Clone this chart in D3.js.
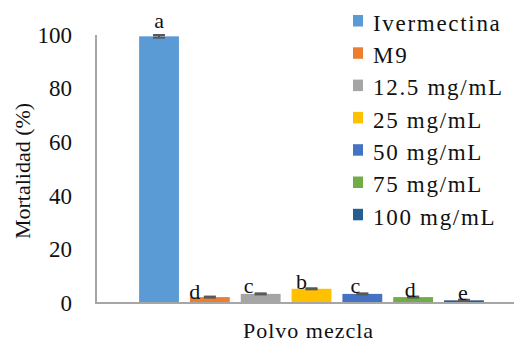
<!DOCTYPE html>
<html><head><meta charset="utf-8">
<script src="https://cdn.jsdelivr.net/npm/d3@7"></script>
<style>
html,body{margin:0;padding:0;background:#fff;}
svg{display:block;}
</style></head>
<body>
<svg id="chart" width="514" height="345"></svg>
<script>
const category = "Polvo mezcla";
const series = ["Ivermectina","M9","12.5 mg/mL","25 mg/mL","50 mg/mL","75 mg/mL","100 mg/mL"];
const values = [99.5, 2.2, 3.4, 5.3, 3.4, 2.2, 1.0];
const errors = [0.5, 0.2, 0.2, 0.2, 0.2, 0.2, 0.2];
const letters = ["a","d","c","b","c","d","e"];
const colors = ["#5B9BD5","#ED7D31","#A5A5A5","#FFC000","#4472C4","#70AD47","#255E91"];
const yTicks = [0,20,40,60,80,100];
const yTitle = "Mortalidad (%)";

// layout (not data)
const labelDx = [0,-15,-12,-10,-7,-3,-1];
const labelDy = [-7,2,0,1,0,0,0];
const FONT = "'Liberation Serif', 'Times New Roman', Tinos, 'DejaVu Serif', serif";

const svg = d3.select("#chart");
const x0 = 96, x1 = 527, yTop = 35, yBot = 303;

const y = d3.scaleLinear().domain([0,100]).range([yBot, yTop]);
const xc = d3.scaleBand().domain([category]).range([x0, x1]).paddingInner(0.2).paddingOuter(0.1);
const xs = d3.scaleBand().domain(series).range([0, xc.bandwidth()]).paddingInner(0.216).paddingOuter(0);

function txt(sel, size, ls){
  sel.style("font-family", FONT).style("font-size", size+"px").style("fill","#111");
  if (ls) sel.style("letter-spacing", ls+"px");
  return sel;
}

// Y axis labels
const yAxis = d3.axisLeft(y).tickValues(yTicks).tickSize(0).tickPadding(24).tickFormat(d3.format("d"));
const ga = svg.append("g").attr("transform", `translate(${x0},0)`).call(yAxis);
ga.select(".domain").remove();
ga.attr("font-family", null).attr("font-size", null);
txt(ga.selectAll("text"), 23);

// bars
const g = svg.append("g").attr("transform", `translate(${xc(category)},0)`);
g.selectAll("rect.bar").data(series).join("rect")
  .attr("class","bar")
  .attr("x", d => xs(d))
  .attr("width", xs.bandwidth())
  .attr("y", (d,i) => y(values[i]))
  .attr("height", (d,i) => y(0) - y(values[i]))
  .attr("fill", (d,i) => colors[i]);

// error bars
const capW = 12;
series.forEach((s,i) => {
  const cx = xs(s) + xs.bandwidth()/2;
  const hi = y(values[i] + errors[i]), lo = y(values[i] - errors[i]);
  const eg = g.append("g").attr("stroke","#595959").attr("stroke-width",2);
  eg.append("line").attr("x1",cx).attr("x2",cx).attr("y1",hi).attr("y2",lo);
  eg.append("line").attr("x1",cx-capW/2).attr("x2",cx+capW/2).attr("y1",hi).attr("y2",hi);
  eg.append("line").attr("x1",cx-capW/2).attr("x2",cx+capW/2).attr("y1",lo).attr("y2",lo);
  txt(g.append("text").attr("x", cx + labelDx[i]).attr("y", y(values[i] + errors[i]) + labelDy[i])
    .attr("text-anchor","middle"), 22).text(letters[i]);
});

// axes lines
svg.append("line").attr("x1",x0).attr("x2",x0).attr("y1",yTop).attr("y2",yBot+1)
  .attr("stroke","#A6A6A6").attr("stroke-width",2);
svg.append("line").attr("x1",x0-1).attr("x2",x1).attr("y1",yBot).attr("y2",yBot)
  .attr("stroke","#A6A6A6").attr("stroke-width",2);

// x category label
txt(svg.append("text").attr("x", 243).attr("y", 338), 22, 1).text(category);

// y title
txt(svg.append("text").attr("transform", `translate(30,171) rotate(-90)`)
  .attr("text-anchor","middle"), 22).text(yTitle);

// legend
const lg = svg.append("g").attr("transform","translate(353,0)");
series.forEach((s,i) => {
  const cy = 20.8 + i*32.3;
  lg.append("rect").attr("x",0).attr("y",cy-5.8).attr("width",10).attr("height",11.5).attr("fill",colors[i]);
  txt(lg.append("text").attr("x",20).attr("y",cy+10), 23, 1.7).text(s);
});
</script>
</body></html>
